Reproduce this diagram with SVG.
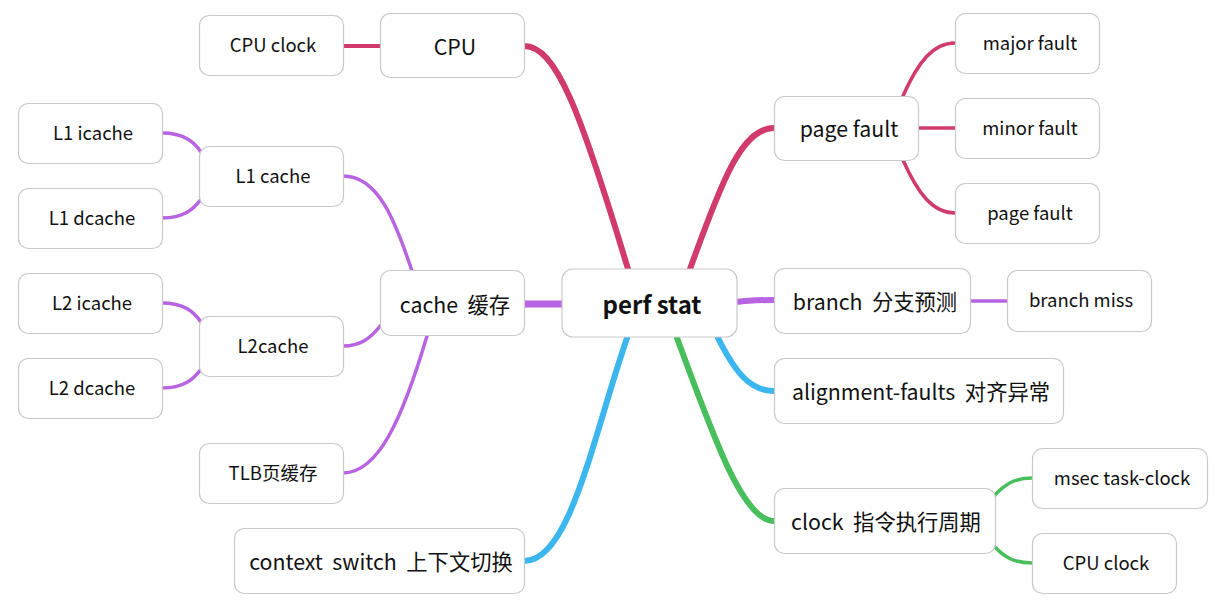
<svg xmlns="http://www.w3.org/2000/svg" width="1231" height="614" viewBox="0 0 1231 614">
<style>
  .n rect { fill:#ffffff; stroke:#c9c9c9; stroke-width:1.2; }
  text { font-family:"Noto Sans CJK SC","Noto Sans",sans-serif; fill:#111; text-anchor:middle; dominant-baseline:central; white-space:pre; }
  .t3 { font-size:18.5px; }
  .t2 { font-size:21.3px; }
  .t1 { font-size:24px; font-weight:bold; }
  .c path { fill:none; stroke-linecap:round; }
  .red { stroke:#d03a6d; }
  .pur { stroke:#b763e2; }
  .blu { stroke:#3bb6ee; }
  .grn { stroke:#48bf5c; }
  .w1 { stroke-width:6; }
  .w2 { stroke-width:3.5; }
</style>
<rect width="1231" height="614" fill="#ffffff"/>
<g class="c" id="connectors">
  <path class="red w1" d="M524,46 C556,46 580,110 628,269"/>
  <path class="red w1" d="M690,269 C722,180 742,128 774,128"/>
  <path class="pur w1" d="M524,304 L562,304" style="stroke-width:7;stroke-linecap:butt"/>
  <path class="pur w1" d="M737,302 C750,300 760,300 774,300" style="stroke-linecap:butt"/>
  <path class="blu w1" d="M718,338 C735,372 750,391 774,391"/>
  <path class="grn w1" d="M677,338 C712,432 742,521 774,521"/>
  <path class="blu w1" d="M627,338 C592,440 570,561 524,561"/>
  <path class="red w2" d="M343,46 L380,46" style="stroke-width:4;stroke-linecap:butt"/>
  <path class="pur w2" d="M412,271 C395,220 378,176 343,176"/>
  <path class="pur w2" d="M381,325 C370,339 360,346 343,346"/>
  <path class="pur w2" d="M427,336 C402,420 378,473 343,473"/>
  <path class="pur w2" d="M162,133 C184,133 194,142 201,152"/>
  <path class="pur w2" d="M162,218 C184,218 194,209 201,199"/>
  <path class="pur w2" d="M162,303 C184,303 194,312 201,322"/>
  <path class="pur w2" d="M162,388 C184,388 194,379 201,369"/>
  <path class="red w2" d="M903,96 C918,62 933,43 955,43"/>
  <path class="red w2" d="M918,128 L955,128" style="stroke-linecap:butt"/>
  <path class="red w2" d="M903,160 C918,194 933,213 955,213"/>
  <path class="pur w2" d="M970,301 L1007,301" style="stroke-linecap:butt"/>
  <path class="grn w2" d="M994,496 C1005,484 1015,478 1032,478"/>
  <path class="grn w2" d="M994,546 C1005,558 1015,563 1032,563"/>
</g>
<g class="n" id="perf-stat"><rect x="562" y="269" width="175" height="68" rx="11"/><text class="t1" x="652" y="303">perf stat</text></g>
<g class="n" id="cpu"><rect x="380.5" y="13.5" width="144" height="64" rx="10"/><text class="t2" x="455" y="45">CPU</text></g>
<g class="n" id="cpu-clock-l"><rect x="199.5" y="15.5" width="144" height="60" rx="10"/><text class="t3" x="273" y="44">CPU clock</text></g>
<g class="n" id="cache"><rect x="380.5" y="270.5" width="144" height="65" rx="10"/><text class="t2" x="455" y="303">cache  缓存</text></g>
<g class="n" id="l1cache"><rect x="199.5" y="146.5" width="144" height="60" rx="10"/><text class="t3" x="273" y="175">L1 cache</text></g>
<g class="n" id="l1icache"><rect x="18.5" y="103.5" width="144" height="60" rx="10"/><text class="t3" x="93" y="132">L1 icache</text></g>
<g class="n" id="l1dcache"><rect x="18.5" y="188.5" width="144" height="60" rx="10"/><text class="t3" x="92" y="217">L1 dcache</text></g>
<g class="n" id="l2cache"><rect x="199.5" y="316.5" width="144" height="60" rx="10"/><text class="t3" x="273" y="345">L2cache</text></g>
<g class="n" id="l2icache"><rect x="18.5" y="273.5" width="144" height="60" rx="10"/><text class="t3" x="92" y="302">L2 icache</text></g>
<g class="n" id="l2dcache"><rect x="18.5" y="358.5" width="144" height="60" rx="10"/><text class="t3" x="92" y="387">L2 dcache</text></g>
<g class="n" id="tlb"><rect x="199.5" y="443.5" width="144" height="60" rx="10"/><text class="t3" x="273" y="472">TLB页缓存</text></g>
<g class="n" id="context-switch"><rect x="234.5" y="528.5" width="290" height="65" rx="10"/><text class="t2" x="381" y="560">context  switch  上下文切换</text></g>
<g class="n" id="page-fault"><rect x="774.5" y="96.5" width="144" height="64" rx="10"/><text class="t2" x="849" y="127">page fault</text></g>
<g class="n" id="major-fault"><rect x="955.5" y="13.5" width="144" height="60" rx="10"/><text class="t3" x="1030" y="42">major fault</text></g>
<g class="n" id="minor-fault"><rect x="955.5" y="98.5" width="144" height="60" rx="10"/><text class="t3" x="1030" y="127">minor fault</text></g>
<g class="n" id="page-fault-2"><rect x="955.5" y="183.5" width="144" height="60" rx="10"/><text class="t3" x="1030" y="212">page fault</text></g>
<g class="n" id="branch"><rect x="774.5" y="268.5" width="196" height="65" rx="10"/><text class="t2" x="875" y="300">branch  分支预测</text></g>
<g class="n" id="branch-miss"><rect x="1007.5" y="270.5" width="144" height="61" rx="10"/><text class="t3" x="1081" y="299">branch miss</text></g>
<g class="n" id="alignment"><rect x="774.5" y="358.5" width="289" height="65" rx="10"/><text class="t2" x="921" y="390">alignment-faults  对齐异常</text></g>
<g class="n" id="clock"><rect x="774.5" y="488.5" width="221" height="65" rx="10"/><text class="t2" x="886" y="520">clock  指令执行周期</text></g>
<g class="n" id="msec"><rect x="1032.5" y="448.5" width="175" height="60" rx="10"/><text class="t3" x="1122" y="477">msec task-clock</text></g>
<g class="n" id="cpu-clock-r"><rect x="1032.5" y="533.5" width="144" height="60" rx="10"/><text class="t3" x="1106" y="562">CPU clock</text></g>
</svg>
